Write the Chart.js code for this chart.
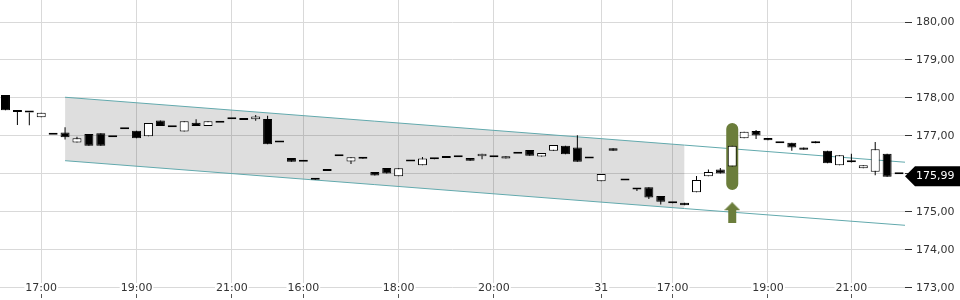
<!DOCTYPE html>
<html lang="de">
<head>
<meta charset="UTF-8">
<title>Kursverlauf</title>
<style>
  body { margin: 0; background: #fff; }
  #wrap { width: 960px; height: 300px; }
</style>
<script src="https://cdn.jsdelivr.net/npm/chart.js@4"></script>
</head>
<body>
<div id="wrap"><canvas id="chart" width="960" height="300"></canvas></div>
<script>
// 15-Minuten-Kerzen (Index 0 = erste Kerze links)
const opens = [178.08, 177.63, 177.62, 177.49, 177.03, 177.09, 176.83, 177.05, 177.07, 176.97,
  177.18, 177.14, 176.99, 177.41, 177.23, 177.12, 177.35, 177.26, 177.35, 177.44,
  177.44, 177.44, 177.45, 176.83, 176.42, 176.32, 175.87, 176.08, 176.47, 176.33,
  176.45, 176.05, 176.16, 175.94, 176.33, 176.23, 176.41, 176.42, 176.44, 176.42,
  176.47, 176.44, 176.41, 176.53, 176.63, 176.46, 176.61, 176.74, 176.70, 176.41,
  175.81, 176.68, 175.83, 175.62, 175.65, 175.42, 175.26, 175.24, 175.52, 175.94,
  176.12, 176.20, 176.94, 177.13, 176.95, 176.81, 176.82, 176.70, 176.81, 176.61,
  176.23, 176.33, 176.15, 176.06, 176.53, 175.99];
const highs = [178.08, 177.63, 177.62, 177.61, 177.03, 177.23, 176.98, 177.05, 177.07, 176.97,
  177.18, 177.14, 177.34, 177.41, 177.23, 177.39, 177.44, 177.39, 177.35, 177.44,
  177.44, 177.55, 177.53, 176.83, 176.42, 176.32, 175.87, 176.08, 176.47, 176.44,
  176.45, 176.05, 176.16, 176.15, 176.33, 176.45, 176.41, 176.42, 176.44, 176.42,
  176.53, 176.44, 176.47, 176.53, 176.63, 176.55, 176.76, 176.74, 177.02, 176.41,
  176.00, 176.68, 175.83, 175.62, 175.65, 175.42, 175.26, 175.24, 175.95, 176.12,
  176.16, 176.74, 177.11, 177.16, 176.95, 176.81, 176.82, 176.70, 176.86, 176.61,
  176.49, 176.53, 176.23, 176.84, 176.53, 175.99];
const lows = [177.68, 177.29, 177.28, 177.49, 177.03, 176.91, 176.83, 176.74, 176.74, 176.97,
  177.18, 176.94, 176.99, 177.26, 177.23, 177.12, 177.26, 177.26, 177.35, 177.44,
  177.42, 177.40, 176.78, 176.83, 176.32, 176.32, 175.85, 176.08, 176.47, 176.26,
  176.40, 175.96, 176.01, 175.94, 176.33, 176.23, 176.39, 176.42, 176.44, 176.35,
  176.39, 176.44, 176.41, 176.53, 176.48, 176.46, 176.61, 176.52, 176.32, 176.41,
  175.81, 176.61, 175.83, 175.55, 175.34, 175.20, 175.23, 175.18, 175.52, 175.94,
  176.01, 176.20, 176.94, 176.92, 176.89, 176.81, 176.61, 176.64, 176.81, 176.28,
  176.23, 176.30, 176.15, 175.97, 175.93, 175.99];
const closes = [177.68, 177.63, 177.62, 177.61, 177.03, 176.97, 176.94, 176.74, 176.74, 176.97,
  177.18, 176.94, 177.34, 177.26, 177.23, 177.39, 177.26, 177.39, 177.35, 177.44,
  177.42, 177.51, 176.78, 176.83, 176.32, 176.32, 175.85, 176.08, 176.47, 176.44,
  176.40, 175.96, 176.01, 176.15, 176.33, 176.41, 176.39, 176.42, 176.44, 176.35,
  176.53, 176.44, 176.47, 176.53, 176.48, 176.55, 176.76, 176.52, 176.32, 176.41,
  176.00, 176.61, 175.83, 175.59, 175.38, 175.27, 175.23, 175.18, 175.84, 176.05,
  176.01, 176.74, 177.11, 177.01, 176.89, 176.81, 176.70, 176.64, 176.86, 176.28,
  176.49, 176.31, 176.23, 176.65, 175.93, 175.99];

// Zeitachse: Kerzen-Index der beschrifteten Ticks
const tickIdx = [3, 11, 19, 25, 33, 41, 50, 56, 64, 71];
const tickText = ['17:00', '19:00', '21:00', '16:00', '18:00', '20:00', '31', '17:00', '19:00', '21:00'];
const yTicks = [173, 174, 175, 176, 177, 178, 179, 180];

// Trendkanal (Kerzen-Index / Kurs)
const channelIdx = [5, 57, 75.5];
const channelUpper = [178.02, 176.76, 176.31];
const channelLower = [176.35, 175.09, 174.65];

// Signal-Markierung
const signalIdx = 61;
const signalRange = [175.58, 177.34];
const arrowLevel = 174.98;

const lastPrice = closes[closes.length - 1];
const signalColor = '#6b7d3b';
const fmt = v => v.toFixed(2).replace('.', ',');

// Pfeil nach oben als Punkt-Symbol
const arrowImg = document.createElement('canvas');
arrowImg.width = 16;
arrowImg.height = 21;
const a = arrowImg.getContext('2d');
a.fillStyle = signalColor;
a.beginPath();
a.moveTo(8, 0); a.lineTo(16, 8); a.lineTo(12, 8); a.lineTo(12, 21);
a.lineTo(4, 21); a.lineTo(4, 8); a.lineTo(0, 8);
a.closePath();
a.fill();

const idx = opens.map((_, i) => i);
const bodies = idx.map(i => ({ x: i, y: [Math.min(opens[i], closes[i]), Math.max(opens[i], closes[i])] }));
const wicks = idx.map(i => ({ x: i, y: highs[i] > lows[i] ? [lows[i], highs[i]] : null }));
const channelPts = (vals, n) => channelIdx.slice(0, n).map((x, k) => ({ x: x, y: vals[k] }));

// letzter Kurs als Marke rechts
const priceTag = {
    id: 'priceTag',
    afterDraw(chart) {
        const ctx = chart.ctx;
        const x0 = chart.chartArea.right;
        const y = chart.scales.y.getPixelForValue(lastPrice) + 2;
        ctx.save();
        ctx.fillStyle = '#000';
        ctx.beginPath();
        ctx.moveTo(x0, y);
        ctx.lineTo(x0 + 10, y - 10);
        ctx.lineTo(chart.width, y - 10);
        ctx.lineTo(chart.width, y + 10);
        ctx.lineTo(x0 + 10, y + 10);
        ctx.closePath();
        ctx.fill();
        ctx.fillStyle = '#fff';
        ctx.font = '11px "DejaVu Sans"';
        ctx.textBaseline = 'middle';
        ctx.fillText(fmt(lastPrice), x0 + 11, y);
        ctx.restore();
    }
};

Chart.defaults.font.family = '"DejaVu Sans", sans-serif';
Chart.defaults.font.size = 11;

new Chart(document.getElementById('chart'), {
    type: 'bar',
    data: {
        datasets: [
            {
                label: 'Körper',
                data: bodies,
                order: 0,
                grouped: false,
                barThickness: 9,
                minBarLength: 2,
                inflateAmount: 0,
                borderWidth: 1,
                borderSkipped: false,
                borderColor: '#000',
                backgroundColor: idx.map(i => closes[i] > opens[i] ? '#fff' : '#000')
            },
            {
                label: 'Docht',
                data: wicks,
                order: 1,
                grouped: false,
                barThickness: 1,
                inflateAmount: 0,
                borderWidth: 0,
                backgroundColor: '#000'
            },
            {
                type: 'line',
                label: 'Pfeil',
                data: [{ x: signalIdx, y: arrowLevel }],
                order: 2,
                showLine: false,
                pointStyle: arrowImg,
                pointRadius: 5
            },
            {
                label: 'Signal',
                data: [{ x: signalIdx, y: signalRange }],
                order: 3,
                grouped: false,
                barThickness: 12,
                borderRadius: 6,
                borderSkipped: false,
                inflateAmount: 0,
                backgroundColor: signalColor
            },
            {
                type: 'line',
                label: 'Kanal oben',
                data: channelPts(channelUpper, 3),
                order: 4,
                borderColor: '#62a9ad',
                borderWidth: 1,
                pointRadius: 0
            },
            {
                type: 'line',
                label: 'Kanal unten',
                data: channelPts(channelLower, 3),
                order: 5,
                borderColor: '#62a9ad',
                borderWidth: 1,
                pointRadius: 0
            },
            {
                type: 'line',
                label: 'Fläche oben',
                data: channelPts(channelUpper, 2),
                order: 6,
                borderWidth: 0,
                pointRadius: 0
            },
            {
                type: 'line',
                label: 'Fläche unten',
                data: channelPts(channelLower, 2),
                order: 7,
                borderWidth: 0,
                pointRadius: 0,
                fill: '-1',
                backgroundColor: 'rgba(0,0,0,0.13)'
            }
        ]
    },
    options: {
        responsive: false,
        animation: false,
        events: [],
        layout: { padding: 0, autoPadding: false },
        plugins: { legend: { display: false }, tooltip: { enabled: false } },
        scales: {
            x: {
                type: 'linear',
                min: -0.46,
                max: 75.5,
                offset: false,
                border: { display: false },
                grid: { offset: false, color: '#d9d9d9', tickColor: '#555', tickLength: 5 },
                ticks: {
                    z: 1,
                    mirror: true,
                    autoSkip: false,
                    maxRotation: 0,
                    padding: -1,
                    color: '#333',
                    font: { size: 11, lineHeight: 1 },
                    showLabelBackdrop: true,
                    backdropColor: '#fff',
                    backdropPadding: { top: 0, bottom: 0, left: 1, right: 1 },
                    callback: (v, i) => tickText[i]
                },
                afterBuildTicks: s => { s.ticks = tickIdx.map(v => ({ value: v })); },
                afterFit: s => { s.height = 7; s.paddingLeft = 0; s.paddingRight = 0; }
            },
            y: {
                position: 'right',
                min: 172.868,
                max: 180.579,
                beginAtZero: false,
                border: { display: false },
                grid: { color: '#d9d9d9', tickColor: '#333', tickLength: 7 },
                ticks: {
                    padding: 4,
                    color: '#333',
                    callback: v => fmt(v)
                },
                afterBuildTicks: s => { s.ticks = yTicks.map(v => ({ value: v })); },
                afterFit: s => { s.width = 55; s.paddingTop = 0; s.paddingBottom = 0; }
            }
        }
    },
    plugins: [priceTag]
});
</script>
</body>
</html>
